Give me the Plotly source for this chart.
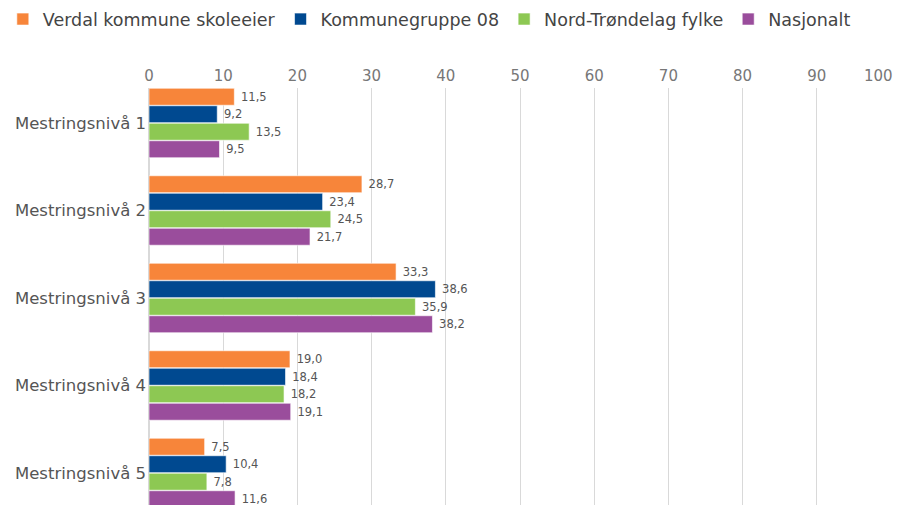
import plotly.graph_objects as go

categories = ["Mestringsnivå 1", "Mestringsnivå 2", "Mestringsnivå 3", "Mestringsnivå 4", "Mestringsnivå 5"]
series_names = ["Verdal kommune skoleeier", "Kommunegruppe 08", "Nord-Trøndelag fylke", "Nasjonalt"]
verdal = [11.5, 28.7, 33.3, 19.0, 7.5]
kommunegruppe = [9.2, 23.4, 38.6, 18.4, 10.4]
nord_trondelag = [13.5, 24.5, 35.9, 18.2, 7.8]
nasjonalt = [9.5, 21.7, 38.2, 19.1, 11.6]
x_ticks = [0, 10, 20, 30, 40, 50, 60, 70, 80, 90, 100]
x_ticklabels = [str(t) for t in x_ticks]

colors = ["#F7853A", "#004990", "#8DC853", "#9A4D9C"]
values = [verdal, kommunegruppe, nord_trondelag, nasjonalt]

tick_font = dict(family="DejaVu Sans", size=15, color="#777777")

fig = go.Figure()
for name, vals, col in zip(series_names, values, colors):
    fig.add_trace(go.Bar(
        y=categories, x=vals, name=name, orientation="h",
        marker=dict(color=col, line=dict(color="rgba(255,255,255,0.6)", width=1)),
        text=[f"{v:.1f}".replace(".", ",") for v in vals],
        texttemplate=" %{text}",
        textposition="outside", cliponaxis=False,
        textfont=dict(family="DejaVu Sans", size=11.5, color="#555555"),
    ))

# last tick label is drawn right-aligned (as in the reference) so it is not cut at the edge
fig.add_annotation(x=x_ticks[-1], xref="x", y=1.029, yref="paper",
                   text=x_ticklabels[-1], showarrow=False, xanchor="right",
                   yanchor="middle", xshift=4, font=tick_font)

# page body has an 8px margin, so the figure is 8px smaller than the window
fig.update_layout(
    width=899, height=497,
    margin=dict(l=141, r=16, t=80, b=0, autoexpand=False),
    barmode="group", bargap=0.2, bargroupgap=0.03,
    plot_bgcolor="white", paper_bgcolor="white",
    font=dict(family="DejaVu Sans", color="#555555"),
    showlegend=True,
    legend=dict(orientation="h", x=-0.197, xref="paper", y=1.165, yref="paper",
                yanchor="middle", xanchor="left",
                font=dict(family="DejaVu Sans", size=17.5, color="#444444"),
                traceorder="normal"),
    xaxis=dict(side="top", range=[0, 100], tickvals=x_ticks,
               ticktext=x_ticklabels[:-1] + [""], showgrid=True,
               gridcolor="#D9D9D9", gridwidth=1, zeroline=True, zerolinecolor="#D9D9D9",
               tickfont=tick_font, ticklabelstandoff=3,
               showline=False, ticks="", automargin=False, fixedrange=True),
    yaxis=dict(categoryorder="array", categoryarray=categories,
               range=[4.366, -0.4], showgrid=False, zeroline=False,
               tickfont=dict(family="DejaVu Sans", size=16.5, color="#555555"),
               ticklabelstandoff=2,
               ticks="", showline=False, automargin=False, fixedrange=True),
)

fig.write_html("out.html")
